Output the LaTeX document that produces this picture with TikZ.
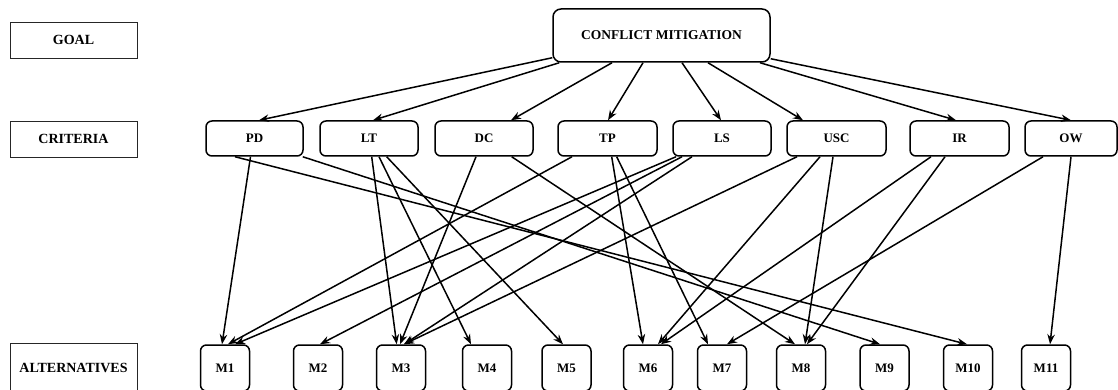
\documentclass[tikz,border=0pt]{standalone}
\usepackage{fontspec}
\setmainfont{Liberation Serif}
\usetikzlibrary{arrows.meta}
\begin{document}
\begin{tikzpicture}[x=1pt,y=-1pt,
  lbl/.style={draw=black!85, line width=0.9pt, minimum width=127pt, minimum height=36pt, inner sep=0pt, font=\fontsize{14}{16}\selectfont\bfseries},
  goalbox/.style={draw, line width=1.5pt, rounded corners=8pt, minimum width=217pt, minimum height=53pt, inner sep=0pt, font=\fontsize{13.5}{15}\selectfont\bfseries},
  crit/.style={draw, line width=1.5pt, rounded corners=6pt, minimum height=35pt, inner sep=0pt, font=\fontsize{13}{15}\selectfont\bfseries},
  alt/.style={draw, line width=1.5pt, rounded corners=6pt, minimum width=49pt, minimum height=46pt, inner sep=0pt, font=\fontsize{13}{15}\selectfont\bfseries},
  arr/.style={line width=1.5pt, -{Stealth[length=10pt,width=7.5pt]}}]
\useasboundingbox[fill=white] (0,0) rectangle (1118,390);

% level labels
\node[lbl] (lgoal) at (73.5,40) {GOAL};
\node[lbl] (lcrit) at (73.5,139) {CRITERIA};
\node[lbl, minimum height=50pt] (lalt) at (73.5,368) {ALTERNATIVES};

% goal
\node[goalbox] (cm) at (661.5,35.5) {CONFLICT MITIGATION};

% criteria
\node[crit, minimum width=97pt] (pd)  at (254.5,138.5) {PD};
\node[crit, minimum width=98pt] (lt)  at (369,138.5) {LT};
\node[crit, minimum width=98pt] (dc)  at (484,138.5) {DC};
\node[crit, minimum width=99pt] (tp)  at (607.5,138.5) {TP};
\node[crit, minimum width=98pt] (ls)  at (722,138.5) {LS};
\node[crit, minimum width=99pt] (usc) at (836.5,138.5) {USC};
\node[crit, minimum width=99pt] (ir)  at (959.5,138.5) {IR};
\node[crit, minimum width=92pt] (ow)  at (1071,138.5) {OW};

% alternatives
\node[alt] (m1)  at (225,368) {M1};
\node[alt] (m2)  at (318,368) {M2};
\node[alt] (m3)  at (401,368) {M3};
\node[alt] (m4)  at (487,368) {M4};
\node[alt] (m5)  at (566.5,368) {M5};
\node[alt] (m6)  at (648,368) {M6};
\node[alt] (m7)  at (722,368) {M7};
\node[alt] (m8)  at (801,368) {M8};
\node[alt] (m9)  at (884.5,368) {M9};
\node[alt] (m10) at (968,368) {M10};
\node[alt] (m11) at (1046,368) {M11};

% goal -> criteria
\draw[arr] ([yshift=5pt]cm.south west) -- ([xshift=4.5pt]pd.north);
\draw[arr] ([xshift=7pt]cm.south west) -- ([xshift=4pt]lt.north);
\draw[arr] ([xshift=-49.5pt]cm.south) -- ([xshift=27pt]dc.north);
\draw[arr] ([xshift=-18.5pt]cm.south) -- ([xshift=0.5pt]tp.north);
\draw[arr] ([xshift=20.5pt]cm.south) -- ([xshift=-1pt]ls.north);
\draw[arr] ([xshift=46.5pt]cm.south) -- ([xshift=-33.5pt]usc.north);
\draw[arr] ([xshift=98.5pt]cm.south) -- ([xshift=-3.5pt]ir.north);
\draw[arr] ([yshift=4pt]cm.south east) -- ([xshift=0pt]ow.north);

% criteria -> alternatives
\draw[arr] ([xshift=-4pt]pd.south) -- ([xshift=-3pt]m1.north);
\draw[arr] ([xshift=-19.5pt]pd.south) -- ([xshift=-1pt]m10.north);
\draw[arr] ([xshift=-1pt]pd.south east) -- ([xshift=-4.5pt]m9.north);

\draw[arr] ([xshift=2.7pt]lt.south) -- ([xshift=-4.3pt]m3.north);
\draw[arr] ([xshift=10pt]lt.south) -- ([xshift=-16pt]m4.north);
\draw[arr] ([xshift=17.7pt]lt.south) -- ([xshift=-3.5pt]m5.north);

\draw[arr] ([xshift=-8pt]dc.south) -- ([xshift=-1pt]m3.north);
\draw[arr] ([xshift=27.7pt]dc.south) -- ([xshift=-6pt]m8.north);

\draw[arr] ([xshift=-35.5pt]tp.south) -- ([xshift=3pt]m1.north);
\draw[arr] ([xshift=4.2pt]tp.south) -- ([xshift=-5pt]m6.north);
\draw[arr] ([xshift=9.2pt]tp.south) -- ([xshift=-14pt]m7.north);

\draw[arr] ([xshift=-46pt]ls.south) -- ([xshift=10pt]m1.north);
\draw[arr] ([xshift=-40pt]ls.south) -- ([xshift=2pt]m2.north);
\draw[arr] ([xshift=-30pt]ls.south) -- ([xshift=3pt]m3.north);

\draw[arr] ([xshift=-39.5pt]usc.south) -- ([xshift=3pt]m3.north);
\draw[arr] ([xshift=-16.5pt]usc.south) -- ([xshift=10pt]m6.north);
\draw[arr] ([xshift=-3.5pt]usc.south) -- ([xshift=4pt]m8.north);

\draw[arr] ([xshift=-28.5pt]ir.south) -- ([xshift=13pt]m6.north);
\draw[arr] ([xshift=-14.5pt]ir.south) -- ([xshift=6pt]m8.north);

\draw[arr] ([xshift=-28pt]ow.south) -- ([xshift=5pt]m7.north);
\draw[arr] ([xshift=0pt]ow.south) -- ([xshift=4pt]m11.north);
\end{tikzpicture}
\end{document}
